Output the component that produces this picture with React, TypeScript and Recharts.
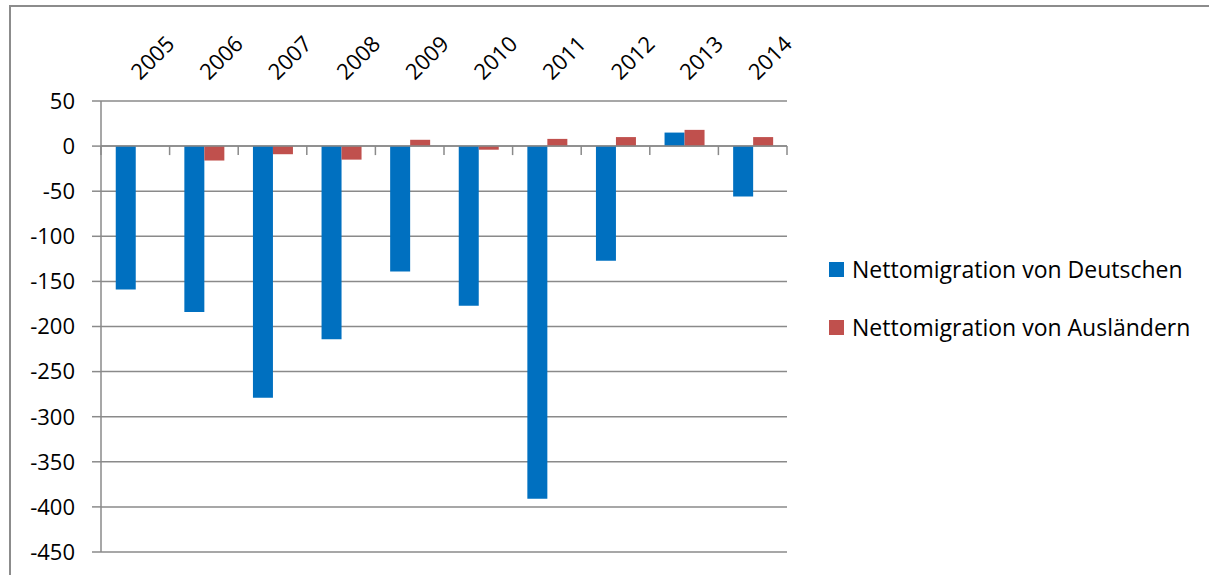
import React from "react";
import {
  BarChart,
  Bar,
  XAxis,
  YAxis,
  CartesianGrid,
  ReferenceLine,
} from "recharts";

// values in thousands
const years = ["2005", "2006", "2007", "2008", "2009", "2010", "2011", "2012", "2013", "2014"];
const deutsche = [-159, -184, -279, -214, -139, -177, -391, -127, 15, -56];
const auslaender = [0, -16, -9, -15, 7, -4, 8, 10, 18, 10];
const yTicks = [50, 0, -50, -100, -150, -200, -250, -300, -350, -400, -450];

const seriesNames = ["Nettomigration von Deutschen", "Nettomigration von Ausländern"];
const colors = ["#0070C0", "#C0504D"];

const W = 1209;
const H = 575;
const MARGIN = { top: 41, right: 422, bottom: 23, left: 0 };
const Y_AXIS_W = 101;
const X_AXIS_H = 60;
const FONT = "'Open Sans', 'Liberation Sans', sans-serif";
const GRID = "#8a8a8a";

const plotTop = MARGIN.top + X_AXIS_H;
const plotH = H - plotTop - MARGIN.bottom;
const plotW = W - MARGIN.left - Y_AXIS_W - MARGIN.right;
const band = plotW / years.length;
const yMax = 50;
const yMin = -450;
const zeroY = plotTop + (plotH * yMax) / (yMax - yMin);

const data = years.map((year, i) => ({
  year,
  de: deutsche[i],
  aus: auslaender[i],
}));

// label above the plot, plus the small tick marks hanging off the zero line
function YearTick(props: any) {
  const { x, index, payload } = props;
  const x0 = x + 5;
  const y0 = 81;
  const left = x - band / 2;
  return (
    <g>
      <text
        x={x0}
        y={y0}
        transform={`rotate(-45 ${x0} ${y0})`}
        textAnchor="start"
        fontSize={22}
        fontFamily={FONT}
        fill="#000"
      >
        {payload.value}
      </text>
      <line x1={left} x2={left} y1={zeroY} y2={zeroY + 9} stroke={GRID} strokeWidth={1.5} />
      {index === years.length - 1 && (
        <line x1={left + band} x2={left + band} y1={zeroY} y2={zeroY + 9} stroke={GRID} strokeWidth={1.5} />
      )}
    </g>
  );
}

export default function App() {
  return (
    <div
      style={{
        position: "absolute",
        left: 0,
        top: 0,
        width: W,
        height: H,
        overflow: "hidden",
        background: "#fff",
      }}
    >
      {/* outer frame of the original chart object */}
      <div
        style={{
          position: "absolute",
          left: 9,
          top: 5,
          width: W,
          height: H,
          borderTop: "2px solid #8c8c8c",
          borderLeft: "2px solid #8c8c8c",
        }}
      />
      <div style={{ position: "absolute", left: 0, top: 0 }}>
        <BarChart
          width={W}
          height={H}
          data={data}
          margin={MARGIN}
          barCategoryGap="21.5%"
          barGap={0}
        >
          <CartesianGrid horizontal vertical={false} stroke={GRID} strokeWidth={1.5} />
          <XAxis
            dataKey="year"
            orientation="top"
            height={X_AXIS_H}
            axisLine={false}
            tickLine={false}
            interval={0}
            tick={<YearTick />}
          />
          <YAxis
            width={Y_AXIS_W}
            domain={[yMin, yMax]}
            ticks={yTicks}
            interval={0}
            allowDataOverflow
            axisLine={{ stroke: GRID, strokeWidth: 1.5 }}
            tickLine={{ stroke: GRID, strokeWidth: 1.5 }}
            tickSize={9}
            tickMargin={17}
            tick={{ fontSize: 22, fontFamily: FONT, fill: "#000" }}
          />
          <ReferenceLine y={0} stroke={GRID} strokeWidth={1.5} />
          <Bar dataKey="de" name={seriesNames[0]} fill={colors[0]} isAnimationActive={false} />
          <Bar dataKey="aus" name={seriesNames[1]} fill={colors[1]} isAnimationActive={false} />
        </BarChart>
      </div>
      {/* legend */}
      {seriesNames.map((name, i) => (
        <div
          key={name}
          style={{
            position: "absolute",
            left: 829,
            top: 254 + i * 58,
            height: 30,
            display: "flex",
            alignItems: "center",
            fontFamily: FONT,
            fontSize: 23,
            color: "#000",
            whiteSpace: "nowrap",
          }}
        >
          <span
            style={{
              display: "inline-block",
              width: 15,
              height: 15,
              background: colors[i],
              marginRight: 8,
            }}
          />
          {name}
        </div>
      ))}
    </div>
  );
}
